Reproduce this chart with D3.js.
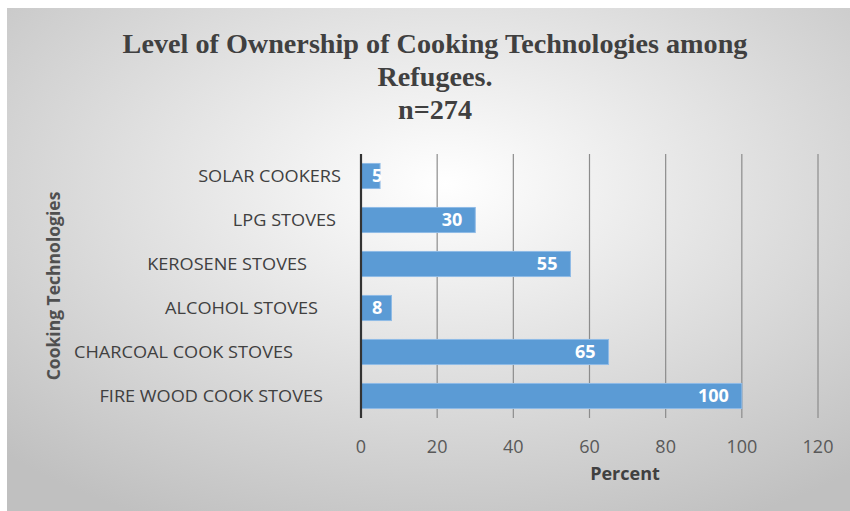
<!DOCTYPE html>
<html>
<head>
<meta charset="utf-8">
<script src="https://cdn.jsdelivr.net/npm/d3@7"></script>
<style>
  body { margin: 0; background: #fff; }
</style>
</head>
<body>
<svg width="850" height="511"></svg>
<script>
const svg = d3.select("svg");
const width = +svg.attr("width");
const height = +svg.attr("height");

// data
const categories = ["SOLAR COOKERS", "LPG STOVES", "KEROSENE STOVES", "ALCOHOL STOVES", "CHARCOAL COOK STOVES", "FIRE WOOD COOK STOVES"];
const values = [5, 30, 55, 8, 65, 100];
const xTicks = [0, 20, 40, 60, 80, 100, 120];
const titleLines = ["Level of Ownership of Cooking Technologies among", "Refugees.", "n=274"];

// the category labels in the picture don't line up, so nudge each one
const labelEnds = [341, 336, 307, 318, 293, 323];

const sans = "'Open Sans', sans-serif";
const serif = "'Liberation Serif', 'Times New Roman', serif";
const margin = { top: 154, right: 32, bottom: 93, left: 361 };

// background panel with the radial shading
const defs = svg.append("defs");
const grad = defs.append("radialGradient")
    .attr("id", "bg")
    .attr("cx", "52%").attr("cy", "35%")
    .attr("r", "75%");
grad.append("stop").attr("offset", "0%").attr("stop-color", "#ffffff");
grad.append("stop").attr("offset", "100%").attr("stop-color", "#c0c0c0");

svg.append("rect")
    .attr("x", 7).attr("y", 8)
    .attr("width", width - 7).attr("height", height - 8)
    .attr("fill", "url(#bg)");

const x = d3.scaleLinear()
    .domain([0, 120])
    .range([margin.left, width - margin.right]);

const y = d3.scaleBand()
    .domain(categories)
    .range([margin.top, height - margin.bottom])
    .paddingInner(0.43)
    .paddingOuter(0.215);

// gridlines
svg.append("g")
    .selectAll("line")
    .data(xTicks.slice(1))
    .join("line")
    .attr("x1", d => x(d)).attr("x2", d => x(d))
    .attr("y1", margin.top).attr("y2", height - margin.bottom)
    .attr("stroke", "#8c8c8c")
    .attr("stroke-width", 1.2);

// bars
svg.append("g")
    .selectAll("rect")
    .data(values)
    .join("rect")
    .attr("x", x(0))
    .attr("y", (d, i) => y(categories[i]))
    .attr("width", d => x(d) - x(0))
    .attr("height", y.bandwidth())
    .attr("fill", "#5b9bd5")
    .attr("stroke", "#8fbbe6")
    .attr("stroke-width", 1);

// value labels, inside end; short bars push the label off the axis
svg.append("g")
    .selectAll("text")
    .data(values)
    .join("text")
    .attr("y", (d, i) => y(categories[i]) + y.bandwidth() / 2)
    .attr("dy", "0.36em")
    .style("font-family", sans)
    .style("font-size", "18px")
    .style("font-weight", "bold")
    .attr("fill", "#fff")
    .text(d => d)
    .attr("x", function (d) {
        const w = this.getComputedTextLength();
        return Math.max(x(d) - 13 - w, x(0) + 11);
    });

// y axis line
svg.append("line")
    .attr("x1", x(0)).attr("x2", x(0))
    .attr("y1", margin.top).attr("y2", height - margin.bottom)
    .attr("stroke", "#333")
    .attr("stroke-width", 2.2);

// category labels (the original type is a bit wide)
svg.append("g")
    .selectAll("text")
    .data(categories)
    .join("text")
    .attr("transform", (d, i) => `translate(${labelEnds[i]},${y(d) + y.bandwidth() / 2}) scale(1.1,1)`)
    .attr("dy", "0.36em")
    .attr("text-anchor", "end")
    .style("font-family", sans)
    .style("font-size", "16.5px")
    .attr("fill", "#404040")
    .text(d => d);

// x axis tick labels
svg.append("g")
    .selectAll("text")
    .data(xTicks)
    .join("text")
    .attr("x", d => x(d))
    .attr("y", 453)
    .attr("text-anchor", "middle")
    .style("font-family", sans)
    .style("font-size", "18px")
    .attr("fill", "#595959")
    .text(d => d);

// axis titles
svg.append("text")
    .attr("x", 625).attr("y", 480)
    .attr("text-anchor", "middle")
    .style("font-family", sans)
    .style("font-size", "18px")
    .style("font-weight", "bold")
    .attr("fill", "#404040")
    .text("Percent");

svg.append("text")
    .attr("transform", "translate(60,286) rotate(-90)")
    .attr("text-anchor", "middle")
    .style("font-family", sans)
    .style("font-size", "17.5px")
    .style("font-weight", "bold")
    .attr("fill", "#505050")
    .text("Cooking Technologies");

// title: squeeze horizontally so the first line spans the same width as the original
const title = svg.append("g");
const titleText = title.selectAll("text")
    .data(titleLines)
    .join("text")
    .attr("x", 0)
    .attr("y", (d, i) => 53 + i * 33)
    .attr("text-anchor", "middle")
    .style("font-family", serif)
    .style("font-size", "27px")
    .style("font-weight", "bold")
    .attr("fill", "#404040")
    .text(d => d);
const firstLen = titleText.node().getComputedTextLength();
title.attr("transform", `translate(435,0) scale(${625 / firstLen},1)`);
</script>
</body>
</html>
